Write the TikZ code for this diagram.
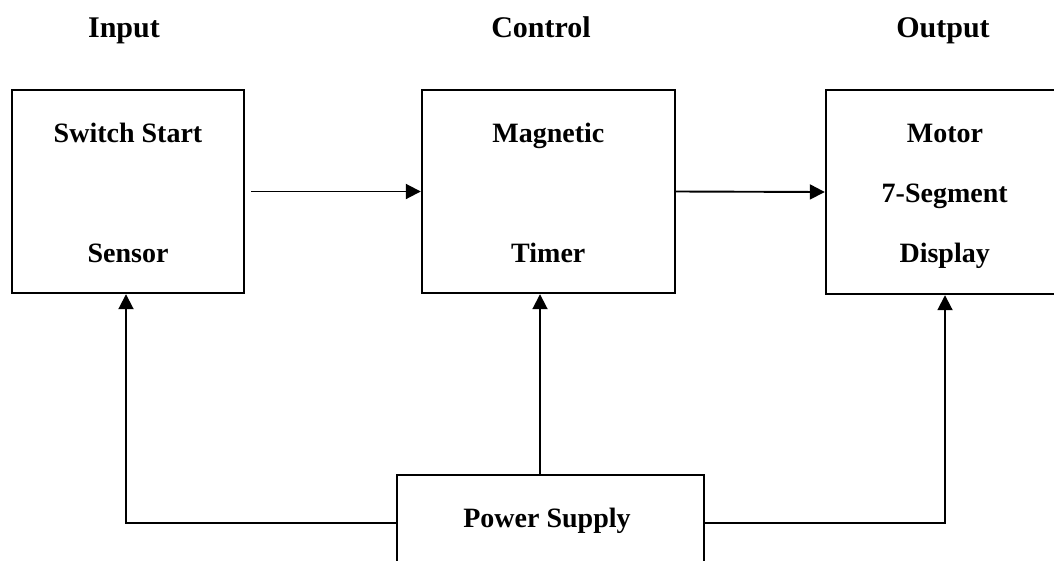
\documentclass[tikz,border=0pt]{standalone}
\usepackage{fontspec}
\setmainfont{Liberation Serif}
\usetikzlibrary{arrows.meta}
\begin{document}
\begin{tikzpicture}[x=1pt,y=-1pt,
  box/.style={draw, line width=2.4pt, rectangle, inner sep=0pt},
  lbl/.style={font=\fontsize{28}{32}\selectfont\bfseries, inner sep=0pt, anchor=base},
  hdr/.style={font=\fontsize{30}{34}\selectfont\bfseries, inner sep=0pt, anchor=base},
  conn/.style={line width=1.9pt, -{Triangle[length=15pt,width=15pt]}}]
\useasboundingbox (0,0) rectangle (1054,560);
\clip (0,0) rectangle (1054,560);
% headers
\node[hdr] (hin) at (124,37) {Input};
\node[hdr] (hctrl) at (541,37) {Control};
\node[hdr] (hout) at (943,37) {Output};
% boxes
\node[box, minimum width=232pt, minimum height=203pt] (in) at (128,191.5) {};
\node[box, minimum width=253pt, minimum height=203pt] (ctrl) at (548.5,191.5) {};
\node[box, minimum width=238pt, minimum height=204pt] (out) at (945,192) {};
\node[box, minimum width=307pt, minimum height=170pt] (pw) at (550.5,560) {};
% texts
\node[lbl] (t1) at (128,142.7) {Switch Start};
\node[lbl] (t2) at (128,262) {Sensor};
\node[lbl] (t3) at (548.3,142.7) {Magnetic};
\node[lbl] (t4) at (548.3,262) {Timer};
\node[lbl] (t5) at (945,142.7) {Motor};
\node[lbl] (t6) at (944.7,202.7) {7-Segment};
\node[lbl] (t7) at (944.7,262) {Display};
\node[lbl] (t8) at (547,527.7) {Power Supply};
% connectors
\draw[conn] ([xshift=6pt]in.east) -- (ctrl.west);
\draw[conn] (ctrl.east) -- (out.west);
\coordinate (pc) at (540,475);
\draw[conn] (pc) -- (pc |- ctrl.south);
\coordinate (lj) at (126,523);
\coordinate (rj) at (945,523);
\draw[conn] (pw.west |- lj) -- (lj) -- (lj |- in.south);
\draw[conn] (pw.east |- rj) -- (rj) -- (rj |- out.south);
\end{tikzpicture}
\end{document}
